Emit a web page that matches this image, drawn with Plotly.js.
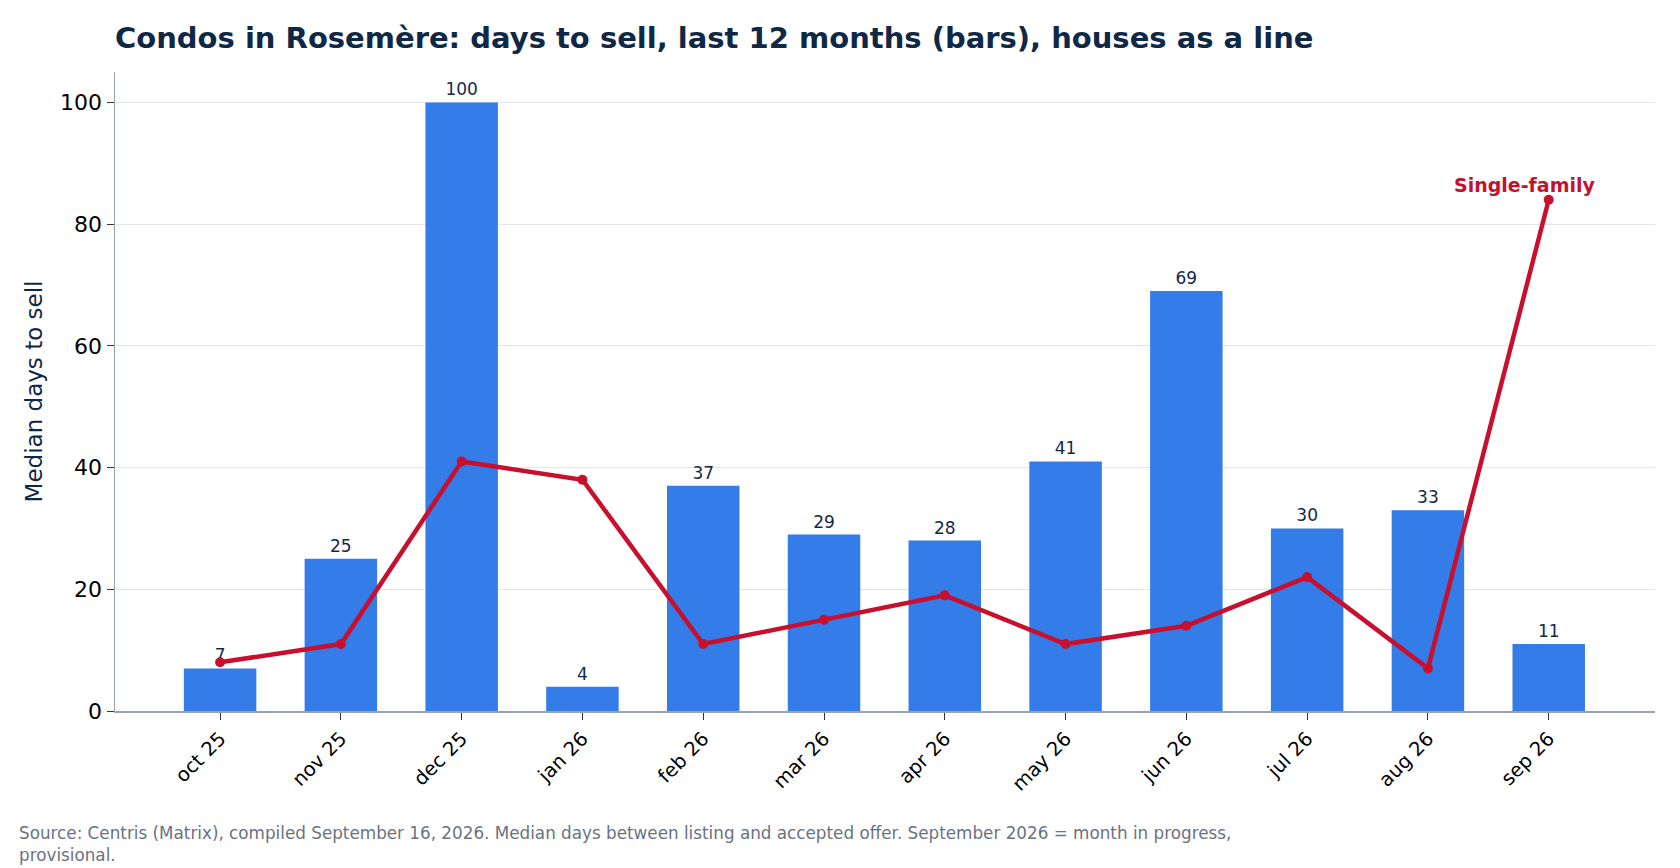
<!DOCTYPE html>
<html>
<head>
<meta charset="utf-8">
<script src="https://cdn.plot.ly/plotly-3.0.1.min.js"></script>
<style>html,body{margin:0;padding:0;background:#fff;}#chart{width:1680px;height:868px;}</style>
</head>
<body>
<div id="chart"></div>
<script>
const months = ["oct 25","nov 25","dec 25","jan 26","feb 26","mar 26","apr 26","may 26","jun 26","jul 26","aug 26","sep 26"];
const condoDays = [7, 25, 100, 4, 37, 29, 28, 41, 69, 30, 33, 11];
const houseDays = [8, 11, 41, 38, 11, 15, 19, 11, 14, 22, 7, 84];
const lineLabel = "Single-family";
const titleText = "Condos in Rosemère: days to sell, last 12 months (bars), houses as a line";
const yTitle = "Median days to sell";
const sourceText = "Source: Centris (Matrix), compiled September 16, 2026. Median days between listing and accepted offer. September 2026 = month in progress,<br>provisional.";

const FONT = "DejaVu Sans, Verdana, sans-serif";
const idx = months.map((_, i) => i);

const bars = {
  type: "bar",
  x: idx,
  y: condoDays,
  width: 0.6,
  marker: {color: "rgba(35,113,230,0.92)"},
  text: condoDays.map(String),
  textposition: "outside",
  cliponaxis: false,
  textfont: {family: FONT, size: 17, color: "#14284b"},
  hoverinfo: "x+y",
  showlegend: false
};
const line = {
  type: "scatter",
  mode: "lines+markers",
  x: idx,
  y: houseDays,
  line: {color: "#c8102e", width: 4.5},
  marker: {color: "#c8102e", size: 10},
  showlegend: false,
  cliponaxis: false
};

const layout = {
  width: 1680,
  height: 868,
  paper_bgcolor: "#ffffff",
  plot_bgcolor: "#ffffff",
  margin: {l: 115, r: 25, t: 72, b: 157},
  font: {family: FONT, color: "#000"},
  title: {
    text: "<b>" + titleText + "</b>",
    font: {family: FONT, size: 29, color: "#0f2846"},
    xref: "container", yref: "container",
    x: 115/1680, xanchor: "left",
    y: 1 - 38/868, yanchor: "middle"
  },
  xaxis: {
    range: [-0.87, 11.88],
    tickmode: "array",
    tickvals: idx,
    ticktext: months,
    tickangle: -45,
    ticks: "outside",
    ticklen: 7,
    tickcolor: "#333",
    tickfont: {family: FONT, size: 19.5, color: "#000"},
    showline: true,
    linecolor: "#9aa3b0",
    linewidth: 1.5,
    showgrid: false,
    zeroline: false,
    fixedrange: true
  },
  yaxis: {
    range: [0, 105],
    tickvals: [0, 20, 40, 60, 80, 100],
    ticks: "outside",
    ticklen: 7,
    tickcolor: "#333",
    tickfont: {family: FONT, size: 22, color: "#000"},
    showline: true,
    linecolor: "#9aa3b0",
    linewidth: 1.5,
    showgrid: true,
    gridcolor: "#e3e6ea",
    gridwidth: 1.2,
    zeroline: false,
    title: {text: yTitle, font: {family: FONT, size: 23, color: "#0f2846"}, standoff: 11},
    fixedrange: true
  },
  annotations: [
    {
      x: 11, y: houseDays[11], xref: "x", yref: "y",
      text: "<b>" + lineLabel + "</b>",
      showarrow: false,
      xshift: -24, yshift: 15,
      font: {family: FONT, size: 19, color: "#c8102e"}
    },
    {
      x: (17 - 115) / 1540, y: -(822 - 711.4) / 639.6,
      xref: "paper", yref: "paper",
      xanchor: "left", yanchor: "top", align: "left",
      text: sourceText,
      showarrow: false,
      font: {family: FONT, size: 16.8, color: "#6b7280"}
    }
  ],
  bargap: 0.4
};

Plotly.newPlot("chart", [bars, line], layout, {displayModeBar: false, staticPlot: true});
</script>
</body>
</html>
